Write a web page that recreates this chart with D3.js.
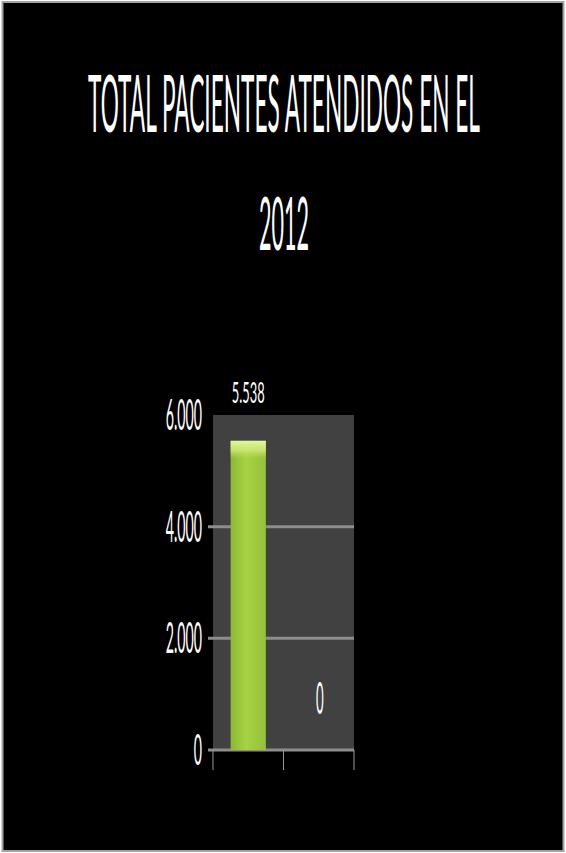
<!DOCTYPE html>
<html>
<head>
<meta charset="utf-8">
<script src="https://cdn.jsdelivr.net/npm/d3@7/dist/d3.min.js"></script>
<style>
  html, body { margin: 0; padding: 0; background: #ffffff; }
  svg { display: block; }
</style>
</head>
<body>
<script>
// Chart data
const titleLines = ["TOTAL PACIENTES ATENDIDOS EN EL", "2012"];
const categories = ["Atendidos", "Sin atender"];
const values = [5538, 0];
const yTicks = [0, 2000, 4000, 6000];

const W = 566, H = 853;
const fmt = d3.formatLocale({ decimal: ",", thousands: ".", grouping: [3], currency: ["", ""] }).format(",.0f");

const svg = d3.select("body").append("svg").attr("width", W).attr("height", H);
const defs = svg.append("defs");

// Slide frame
svg.append("rect")
  .attr("x", 2.5).attr("y", 2).attr("width", 561).attr("height", 849)
  .attr("fill", "#000").attr("stroke", "#a3a3a3").attr("stroke-width", 2);

// Draws a horizontally condensed text
function squeezed(parent, str, x, y, size, sx, anchor, weight) {
  const g = parent.append("g").attr("transform", `translate(${x},${y}) scale(${sx},1)`);
  return g.append("text")
    .attr("x", 0).attr("y", 0)
    .attr("text-anchor", anchor)
    .attr("font-family", "Lato, 'Open Sans', sans-serif")
    .attr("font-size", size)
    .attr("font-weight", weight || 400)
    .attr("fill", "#fff")
    .text(str);
}

// Draws a condensed text fitted to a given width
function fitted(parent, str, cx, y, size, width, weight) {
  const g = parent.append("g");
  const t = g.append("text")
    .attr("x", 0).attr("y", 0)
    .attr("text-anchor", "middle")
    .attr("font-family", "Lato, 'Open Sans', sans-serif")
    .attr("font-size", size)
    .attr("font-weight", weight)
    .attr("fill", "#fff")
    .text(str);
  const w = t.node().getComputedTextLength();
  g.attr("transform", `translate(${cx},${y}) scale(${width / w},1)`);
  return t;
}

// Title
const titleSizes = [79, 74];
const titleWidths = [392, 50];
const titleBase = [132, 250];
titleLines.forEach((t, i) => fitted(svg, t, 284, titleBase[i], titleSizes[i], titleWidths[i], 400));

// Scales
const x = d3.scaleBand().domain(categories).range([213, 354]).paddingInner(0.5).paddingOuter(0.25);
const y = d3.scaleLinear().domain([0, 6000]).range([750, 415]);

// Plot area
svg.append("rect")
  .attr("x", x.range()[0]).attr("y", y(6000))
  .attr("width", x.range()[1] - x.range()[0]).attr("height", y(0) - y(6000))
  .attr("fill", "#414141");

// Gridlines and baseline
svg.append("g").selectAll("line")
  .data(yTicks.filter(d => d < 6000))
  .join("line")
  .attr("x1", x.range()[0] - 5).attr("x2", x.range()[1])
  .attr("y1", d => y(d)).attr("y2", d => y(d))
  .attr("stroke", "#8d8d8d").attr("stroke-width", 3);

// Category boundary tick marks
const bounds = d3.range(categories.length + 1).map(i => x.range()[0] + i * x.step());
svg.append("g").selectAll("line")
  .data(bounds)
  .join("line")
  .attr("x1", d => d).attr("x2", d => d)
  .attr("y1", y(0)).attr("y2", y(0) + 20)
  .attr("stroke", "#9a9a9a").attr("stroke-width", 1);

// Y tick labels
yTicks.forEach(t => {
  squeezed(svg, fmt(t), 202, y(t) + 15, 43, 0.33, "end", 400);
});

// Bar gradients
const gBody = defs.append("linearGradient").attr("id", "barBody").attr("x1", 0).attr("x2", 1).attr("y1", 0).attr("y2", 0);
gBody.append("stop").attr("offset", "0%").attr("stop-color", "#8cb836");
gBody.append("stop").attr("offset", "45%").attr("stop-color", "#a8d244");
gBody.append("stop").attr("offset", "100%").attr("stop-color", "#94c03a");
const gCap = defs.append("linearGradient").attr("id", "barCap").attr("x1", 0).attr("x2", 0).attr("y1", 0).attr("y2", 1);
gCap.append("stop").attr("offset", "0%").attr("stop-color", "#e4f7a0").attr("stop-opacity", 1);
gCap.append("stop").attr("offset", "55%").attr("stop-color", "#cfea78").attr("stop-opacity", 0.8);
gCap.append("stop").attr("offset", "100%").attr("stop-color", "#b6dc55").attr("stop-opacity", 0);

const bars = categories.map((c, i) => ({ c, v: values[i] }));
svg.append("g").selectAll("rect")
  .data(bars)
  .join("rect")
  .attr("x", d => x(d.c)).attr("y", d => y(d.v))
  .attr("width", x.bandwidth()).attr("height", d => y(0) - y(d.v))
  .attr("fill", "url(#barBody)");
svg.append("g").selectAll("rect")
  .data(bars.filter(d => d.v > 0))
  .join("rect")
  .attr("x", d => x(d.c)).attr("y", d => y(d.v))
  .attr("width", x.bandwidth()).attr("height", 18)
  .attr("fill", "url(#barCap)");

// Value labels
bars.forEach(d => {
  const big = d.v === 0;
  squeezed(svg, fmt(d.v), x(d.c) + x.bandwidth() / 2 + (big ? 1 : 0), y(d.v) - (big ? 36 : 38),
    big ? 44 : 28, big ? 0.3 : 0.46, "middle", 400);
});
</script>
</body>
</html>
